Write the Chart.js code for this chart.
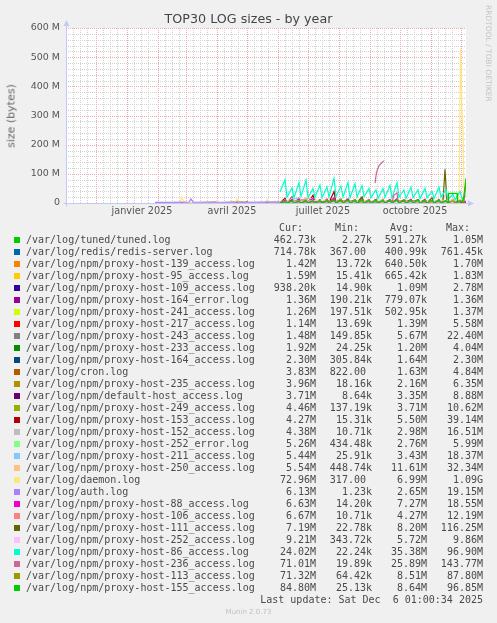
<!DOCTYPE html>
<html><head><meta charset="utf-8">
<script src="https://cdn.jsdelivr.net/npm/chart.js@4.4.1/dist/chart.umd.min.js"></script>
<style>
html,body{margin:0;padding:0;background:#f0f0f0;}
#wrap{position:relative;width:497px;height:623px;overflow:hidden;background:#f0f0f0;}
canvas{position:absolute;left:0;top:0;}
.t{position:absolute;white-space:pre;font-family:"DejaVu Sans",sans-serif;color:#444;}
.m{position:absolute;white-space:pre;font-family:"DejaVu Sans Mono",monospace;font-size:10px;line-height:12px;height:12px;color:#4a4a4a;}
.sq{position:absolute;width:6px;height:6px;}
</style></head><body><div id="wrap"><canvas id="c" width="497" height="623"></canvas></div>
<script>
// ---------- DATA ----------
// x values = days since 2024-11-01 (period: 2024-11-01 .. 2025-12-06), y values in MB
const logNames = ['/var/log/tuned/tuned.log','/var/log/redis/redis-server.log','/var/log/npm/proxy-host-139_access.log','/var/log/npm/proxy-host-95_access.log','/var/log/npm/proxy-host-109_access.log','/var/log/npm/proxy-host-164_error.log','/var/log/npm/proxy-host-241_access.log','/var/log/npm/proxy-host-217_access.log','/var/log/npm/proxy-host-243_access.log','/var/log/npm/proxy-host-233_access.log','/var/log/npm/proxy-host-164_access.log','/var/log/cron.log','/var/log/npm/proxy-host-235_access.log','/var/log/npm/default-host_access.log','/var/log/npm/proxy-host-249_access.log','/var/log/npm/proxy-host-153_access.log','/var/log/npm/proxy-host-152_access.log','/var/log/npm/proxy-host-252_error.log','/var/log/npm/proxy-host-211_access.log','/var/log/npm/proxy-host-250_access.log','/var/log/daemon.log','/var/log/auth.log','/var/log/npm/proxy-host-88_access.log','/var/log/npm/proxy-host-106_access.log','/var/log/npm/proxy-host-111_access.log','/var/log/npm/proxy-host-252_access.log','/var/log/npm/proxy-host-86_access.log','/var/log/npm/proxy-host-236_access.log','/var/log/npm/proxy-host-113_access.log','/var/log/npm/proxy-host-155_access.log'];
const curText = ['462.73k','714.78k','1.42M','1.59M','938.20k','1.36M','1.26M','1.14M','1.48M','1.92M','2.30M','3.83M','3.96M','3.71M','4.46M','4.27M','4.38M','5.26M','5.44M','5.54M','72.96M','6.13M','6.63M','6.67M','7.19M','9.21M','24.02M','71.01M','71.32M','84.80M'];
const minText = ['2.27k','367.00 ','13.72k','15.41k','14.90k','190.21k','197.51k','13.69k','149.85k','24.25k','305.84k','822.00 ','18.16k','8.64k','137.19k','15.31k','10.71k','434.48k','25.91k','448.74k','317.00 ','1.23k','14.20k','10.71k','22.78k','343.72k','22.24k','19.89k','64.42k','25.13k'];
const avgText = ['591.27k','400.99k','640.50k','665.42k','1.09M','779.07k','502.95k','1.39M','5.67M','1.20M','1.64M','1.63M','2.16M','3.35M','3.71M','5.50M','2.98M','2.76M','3.43M','11.61M','6.99M','2.65M','7.27M','4.27M','8.20M','5.72M','35.38M','25.89M','8.51M','8.64M'];
const maxText = ['1.05M','761.45k','1.70M','1.83M','2.78M','1.36M','1.37M','5.58M','22.40M','4.04M','2.30M','4.84M','6.35M','8.88M','10.62M','39.14M','16.51M','5.99M','18.37M','32.34M','1.09G','19.15M','18.55M','12.19M','116.25M','9.86M','96.90M','143.77M','87.80M','96.85M'];

const monthStarts = [0,30,61,92,120,151,181,212,242,273,304,334,365,395];
const labelDays = [76,166,257,349];
const labelTexts = ['janvier 2025','avril 2025','juillet 2025','octobre 2025'];
const yMajorM = [0,100,200,300,400,500,600];
const yMinorM = [20,40,60,80,120,140,160,180,220,240,260,280,320,340,360,380,420,440,460,480,520,540,560,580];

const sTuned = [[89,0.4],[150,0.9],[151,0.1],[240,0.8],[241,0.1],[330,1.0],[331,0.1],[400,0.46]];
const sRedis = [[89,0.4],[200,0.7],[300,0.3],[400,0.71]];
const s139 = [[214,0.1],[260,1.2],[261,0.1],[320,1.6],[321,0.1],[400,1.42]];
const s95 = [[214,0.1],[270,1.5],[271,0.1],[340,1.8],[341,0.1],[400,1.59]];
const s109 = [[214,0.5],[240,2.5],[241,0.1],[300,2.7],[301,0.1],[360,1.5],[361,0.1],[400,0.94]];
const s164e = [[214,0.3],[300,1.2],[400,1.36]];
const s241 = [[214,0.3],[300,1.0],[400,1.26]];
const s217 = [[214,0.1],[230,5],[231,0.5],[280,2],[400,1.14]];
const s243 = [[214,1],[219,12],[221,1],[226,22],[228,1],[233,15],[235,1],[240,10],[242,1],[247,8],[249,1],[254,9],[256,1],[261,7],[263,1],[268,8],[270,1],[300,5],[330,4],[360,3],[400,1.48]];
const s233 = [[214,0.5],[300,4],[301,0.2],[400,1.92]];
const s164a = [[214,0.3],[400,2.3]];
const sCron = [[89,0.5],[120,2],[121,0.1],[150,3],[151,0.1],[181,4.8],[182,0.1],[212,3],[213,0.1],[242,2],[243,0.1],[273,3],[274,0.1],[304,2],[305,0.1],[334,3],[335,0.1],[365,4],[366,0.1],[400,3.83]];
const s235 = [[214,0.1],[260,6],[261,0.2],[320,5],[321,0.2],[400,3.96]];
const sDefault = [[214,0.1],[250,8.8],[251,0.5],[300,6],[301,0.5],[350,7],[351,0.5],[400,3.71]];
const s249 = [[214,0.2],[240,10.6],[242,0.5],[280,8],[282,0.5],[330,6],[332,0.5],[400,4.46]];
const s153 = [[214,0.5],[219,16],[221,1],[226,6],[228,1],[233,10],[235,1],[240,8],[242,1],[247,27],[249,1],[254,6],[256,1],[261,12],[263,1],[268,39],[270,1],[275,8],[277,1],[282,10],[284,1],[289,7],[291,1],[296,20],[298,1],[303,8],[305,1],[310,6],[312,1],[317,9],[319,1],[324,5],[326,1],[331,7],[333,1],[338,6],[340,1],[345,5],[347,1],[352,6],[354,1],[359,5],[361,1],[366,4],[368,1],[373,5],[375,1],[380,6],[382,1],[387,5],[389,1],[394,5],[396,1],[400,4.27]];
const s152 = [[214,0.1],[245,16.5],[247,0.2],[290,8],[292,0.2],[350,6],[352,0.2],[400,4.38]];
const s252e = [[214,0.5],[300,6],[301,0.5],[400,5.26]];
const s211 = [[214,0.1],[233,18],[235,0.5],[275,10],[277,0.5],[330,8],[332,0.5],[400,5.44]];
const s250 = [[214,1],[219,10],[221,3],[226,14],[228,4],[233,12],[235,4],[240,18],[242,4],[247,14],[249,4],[254,12],[256,4],[261,16],[263,4],[268,14],[270,4],[275,13],[277,4],[282,15],[284,4],[289,12],[291,4],[296,14],[298,4],[303,13],[305,4],[310,12],[312,4],[317,14],[319,4],[324,12],[326,4],[331,15],[333,4],[338,12],[340,4],[345,13],[347,4],[352,12],[354,4],[359,14],[361,4],[366,12],[368,4],[373,13],[375,4],[380,32],[382,4],[387,14],[389,4],[394,12],[396,4],[400,5.5]];
const sDaemon = [[89,1],[114,2],[116,20],[118,2],[150,1.5],[169,2],[171,12.5],[173,2],[179,5],[181,1.5],[199,2],[201,11],[203,2],[230,3],[260,4],[300,3],[340,4],[380,3],[393,3],[394.5,530],[396,300],[397,257],[398,20],[399,70],[400,73]];
const sAuth = [[89,2],[123,2.5],[125,14],[127,3],[160,2.5],[200,3],[250,3],[300,4],[350,5],[400,6.1]];
const s88 = [[214,1],[219,9],[221,2],[226,12],[228,2],[233,14],[235,2],[240,10],[242,2],[247,16],[249,2],[254,11],[256,2],[261,13],[263,2],[268,18],[270,2],[275,12],[277,2],[282,14],[284,2],[289,10],[291,2],[296,15],[298,2],[303,11],[305,2],[310,13],[312,2],[317,9],[319,2],[324,12],[326,2],[331,14],[333,2],[338,10],[340,2],[345,13],[347,2],[352,11],[354,2],[359,12],[361,2],[366,9],[368,2],[373,10],[375,2],[380,8],[382,2],[387,9],[389,2],[394,7],[396,2],[400,6.63]];
const s106 = [[214,0.1],[240,12],[242,0.3],[290,8],[292,0.3],[340,9],[342,0.3],[400,6.67]];
const s111 = [[214,0.5],[219,6],[221,1],[226,8],[228,1],[233,7],[235,1],[240,9],[242,1],[247,8],[249,1],[254,10],[256,1],[261,9],[263,1],[268,12],[270,1],[275,10],[277,1],[282,8],[284,1],[289,11],[291,1],[296,20],[298,1],[303,9],[305,1],[310,12],[312,1],[317,10],[319,1],[324,9],[326,1],[331,11],[333,1],[338,10],[340,1],[345,9],[347,1],[352,12],[354,1],[359,10],[361,1],[366,18],[368,1],[373,10],[375,1],[377,6],[379,116],[381,5],[382,1],[387,9],[389,1],[394,8],[396,1],[400,7.2]];
const s252a = [[214,1],[260,9.8],[262,2],[320,8],[322,2],[400,9.21]];
const s86 = [[214,38],[219,80],[221,20],[226,52],[228,18],[233,70],[235,22],[240,78],[242,18],[247,50],[249,20],[254,62],[256,18],[261,55],[263,20],[268,85],[270,22],[275,58],[277,20],[282,70],[284,18],[289,66],[291,20],[296,60],[298,22],[303,50],[305,18],[310,45],[312,15],[317,50],[319,20],[324,60],[326,18],[331,70],[333,20],[338,45],[340,15],[345,55],[347,18],[352,45],[354,15],[359,50],[361,18],[366,40],[368,15],[373,55],[375,20],[380,45],[382,12],[387,30],[389,10],[394,40],[396,15],[400,24]];
const s236 = [[309,68],[310.5,105],[313,128],[317,142],[318,143.77],[318.5,null],[326,3],[328,27],[331,35],[332,3],[333,null],[398,2],[400,71]];
const s113 = [[214,0.5],[219,5],[221,1],[226,6],[228,1],[233,8],[235,1],[240,7],[242,1],[247,9],[249,1],[254,8],[256,1],[261,10],[263,1],[268,9],[270,1],[275,14],[277,1],[282,8],[284,1],[289,10],[291,1],[296,12],[298,1],[303,9],[305,1],[310,10],[312,1],[317,8],[319,1],[324,9],[326,1],[331,10],[333,1],[338,8],[340,1],[345,9],[347,1],[352,10],[354,1],[359,8],[361,1],[366,9],[368,1],[373,8],[375,1],[380,9],[382,1],[387,8],[389,1],[394,10],[397,3],[400,71.3]];
const s155 = [[214,0.5],[219,4],[221,0.5],[226,6],[228,0.5],[233,5],[235,0.5],[240,7],[242,0.5],[247,6],[249,0.5],[254,8],[256,0.5],[261,7],[263,0.5],[268,9],[270,0.5],[275,8],[277,0.5],[282,10],[284,0.5],[289,7],[291,0.5],[296,9],[298,0.5],[303,8],[305,0.5],[310,7],[312,0.5],[317,9],[319,0.5],[324,8],[326,0.5],[331,10],[333,0.5],[338,7],[340,0.5],[345,8],[347,0.5],[352,9],[354,0.5],[359,7],[361,0.5],[366,8],[368,0.5],[373,9],[375,0.5],[380,6],[382,2],[382.5,33],[391,33],[391.5,3],[396,5],[398,20],[400,85]];

const seriesData = [sTuned,sRedis,s139,s95,s109,s164e,s241,s217,s243,s233,s164a,sCron,s235,sDefault,s249,s153,s152,s252e,s211,s250,sDaemon,sAuth,s88,s106,s111,s252a,s86,s236,s113,s155];

// ---------- STYLE ----------
const palette = ['#00CC00','#0066B3','#FF8000','#FFCC00','#330099','#990099','#CCFF00','#FF0000','#808080','#008F00','#00487D','#B35A00','#B38F00','#6B006B','#8FB300','#B30000','#BEBEBE','#80FF80','#80C9FF','#FFC080','#FFE680','#AA80FF','#EE00CC','#FF8080','#666600','#FFBFFF','#00FFCC','#CC6699','#999900','#00CC00'];
const MAJOR = '#eeaaaa', MINOR = '#d2d2d2', AXIS = '#c4c8f4';

const minorX = monthStarts.flatMap(m => [m+7, m+14, m+21]).filter(v => v < 400);
const labelMap = {}; labelDays.forEach((d,i)=> labelMap[d] = labelTexts[i]);

const bgPlugin = { id:'bg', beforeDraw(chart){ const {ctx, chartArea:a} = chart; ctx.save(); ctx.fillStyle='#ffffff'; ctx.fillRect(a.left, a.top, a.right-a.left, a.bottom-a.top); ctx.restore(); } };
const gridPlugin = { id:'rrdgrid', beforeDatasetsDraw(chart){
  const {ctx, chartArea:a, scales:{x, y}} = chart; ctx.save(); ctx.lineWidth = 1; ctx.setLineDash([1,1]);
  const v = (d, col) => { const p = Math.round(x.getPixelForValue(d)) + 0.5; ctx.strokeStyle = col; ctx.beginPath(); ctx.moveTo(p, a.top); ctx.lineTo(p, a.bottom); ctx.stroke(); };
  const h = (m, col) => { const p = Math.round(y.getPixelForValue(m*1e6)) + 0.5; ctx.strokeStyle = col; ctx.beginPath(); ctx.moveTo(a.left, p); ctx.lineTo(a.right, p); ctx.stroke(); };
  minorX.forEach(d => v(d, MINOR)); yMinorM.forEach(m => h(m, MINOR));
  monthStarts.forEach(d => v(d, MAJOR)); yMajorM.forEach(m => h(m, MAJOR));
  ctx.restore(); } };
const axisPlugin = { id:'axes', afterDatasetsDraw(chart){
  const {ctx, scales:{x, y}} = chart; ctx.save();
  const x0 = Math.round(x.getPixelForValue(0)) + 0.5, y0 = Math.round(y.getPixelForValue(0)) + 0.5;
  const yTop = y.getPixelForValue(600e6), xEnd = x.getPixelForValue(400);
  ctx.strokeStyle = AXIS; ctx.fillStyle = AXIS; ctx.lineWidth = 1;
  ctx.beginPath(); ctx.moveTo(x0, y0+3); ctx.lineTo(x0, yTop-4); ctx.stroke();
  ctx.beginPath(); ctx.moveTo(x0-3, y0); ctx.lineTo(xEnd+3, y0); ctx.stroke();
  ctx.beginPath(); ctx.moveTo(x0, yTop-8); ctx.lineTo(x0-3, yTop-2); ctx.lineTo(x0+3, yTop-2); ctx.closePath(); ctx.fill();
  ctx.beginPath(); ctx.moveTo(xEnd+8, y0); ctx.lineTo(xEnd+2, y0-3); ctx.lineTo(xEnd+2, y0+3); ctx.closePath(); ctx.fill();
  ctx.restore(); } };

new Chart(document.getElementById('c'), {
  type: 'line',
  data: { datasets: seriesData.map((s,i) => ({
    label: logNames[i],
    data: s.map(p => ({x: p[0], y: p[1] === null ? null : p[1]*1e6})),
    borderColor: palette[i], backgroundColor: palette[i], borderWidth: 1.2,
    pointRadius: 0, fill: false, tension: 0, spanGaps: false, order: 29 - i })) },
  options: {
    responsive: false, animation: false, devicePixelRatio: 1, events: [],
    layout: { padding: { left: 0, right: 31, top: 28, bottom: 400 } },
    plugins: { legend: { display: false }, tooltip: { enabled: false } },
    scales: {
      x: { type: 'linear', min: 0, max: 400,
        afterBuildTicks: sc => { sc.ticks = labelDays.map(v => ({value: v})); },
        afterFit: sc => { sc.height = 20; },
        grid: { display: false, drawTicks: false }, border: { display: false },
        ticks: { autoSkip: false, maxRotation: 0, padding: 3, color: '#555', font: { family: 'DejaVu Sans', size: 9.7 }, callback: v => labelMap[v] || '' } },
      y: { min: 0, max: 600e6,
        afterBuildTicks: sc => { sc.ticks = yMajorM.map(v => ({value: v*1e6})); },
        afterFit: sc => { sc.width = 66; },
        grid: { display: false, drawTicks: false }, border: { display: false },
        ticks: { autoSkip: false, padding: 6, color: '#555', font: { family: 'DejaVu Sans', size: 9.5 }, callback: v => { const m = Math.round(v/1e6); return m === 0 ? '0' : m + ' M'; } } }
    }
  },
  plugins: [bgPlugin, gridPlugin, axisPlugin]
});

// ---------- TEXT (title, labels, legend) ----------
const wrap = document.getElementById('wrap');
function el(cls, text, css){ const d = document.createElement('div'); d.className = cls; d.textContent = text; Object.assign(d.style, css); wrap.appendChild(d); return d; }
el('t', 'TOP30 LOG sizes - by year', {left:'0px', width:'497px', textAlign:'center', top:'11px', fontSize:'12.7px', lineHeight:'16px', color:'#444'});
el('t', 'size (bytes)', {left:'11px', top:'115.5px', fontSize:'11px', color:'#666', transform:'translate(-50%,-50%) rotate(-90deg)', lineHeight:'13px'});
el('t', 'RRDTOOL / TOBI OETIKER', {left:'484px', top:'5px', fontSize:'7.5px', color:'#c4c4c4', writingMode:'vertical-rl'});
const colRight = [181, 125, 70, 14];
['Cur:','Min:','Avg:','Max:'].forEach((hd,k) => el('m', hd, {top:'222px', right:(colRight[k]+13)+'px'}));
logNames.forEach((n,i) => {
  const top = 234 + 12*i;
  const sq = document.createElement('div'); sq.className = 'sq'; Object.assign(sq.style, {left:'14px', top:(top+3)+'px', background: palette[i]}); wrap.appendChild(sq);
  el('m', n, {left:'26px', top: top+'px'});
  [curText[i], minText[i], avgText[i], maxText[i]].forEach((val,k) => el('m', val, {top: top+'px', right: colRight[k]+'px'}));
});
el('m', 'Last update: Sat Dec  6 01:00:34 2025', {top:'594px', right:'14px'});
el('t', 'Munin 2.0.73', {left:'0px', width:'497px', textAlign:'center', top:'607px', fontSize:'7px', lineHeight:'10px', color:'#c0c0c0'});
</script></body></html>
